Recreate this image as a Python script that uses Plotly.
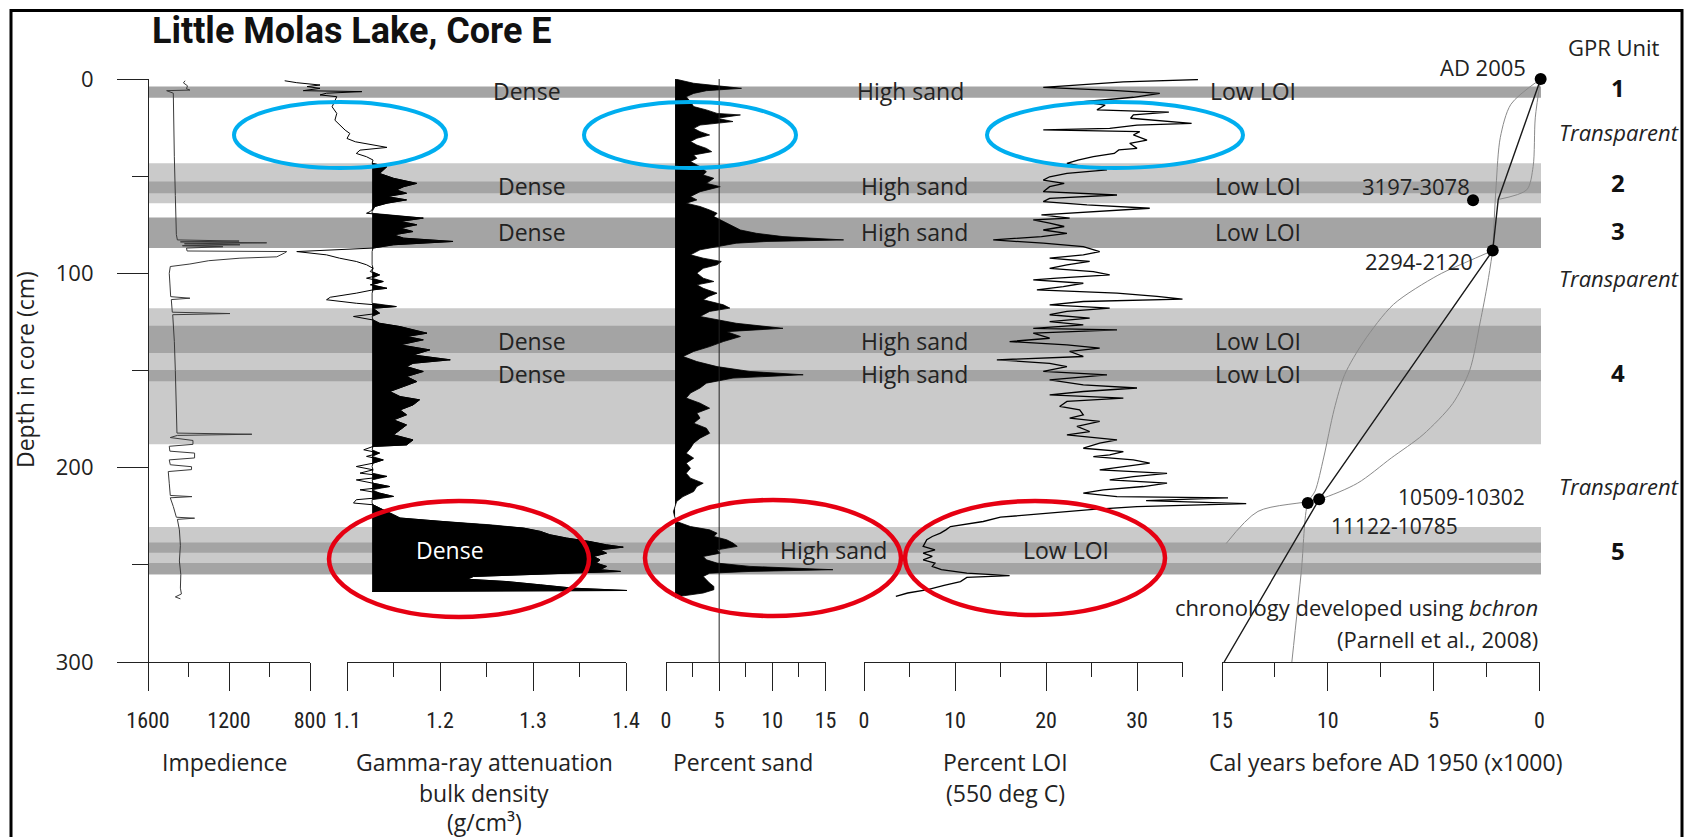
import plotly.graph_objects as go

W, H = 1692, 837   # browser window
OFF = 8            # page body margin: the figure starts 8 px right/down
WF, HF = W - OFF, H - OFF

# ---------------- data (depth in cm) ----------------
imp_depth = [0.9, 2.0, 3.5, 5.0, 5.7, 6.0, 7.3, 20, 40, 60,
             80, 82.8, 83.4, 83.8, 84.3, 84.8, 85.3, 85.8, 86.3, 87.0,
             88.5, 88.8, 89.5, 91.5, 92.2, 93.5, 95.2, 96.5, 100, 105,
             110, 112, 112.8, 113.5, 120, 120.7, 121.3, 135, 150, 165,
             182.2, 182.8, 183.4, 184.5, 186, 188, 189, 191.5, 192.5, 195,
             196, 198.5, 199.5, 201, 202, 208, 214.3, 214.9, 215.5, 220,
             225.5, 226, 226.6, 232, 240, 248, 255, 262, 265, 266.5,
             267.5]
imp_value = [1417, 1425, 1405, 1410, 1393, 1508, 1475, 1474, 1470, 1465,
             1460, 1455, 1150, 1440, 1014, 1420, 1146, 1430, 1230, 1410,
             1407, 915, 925, 964, 1146, 1300, 1393, 1490, 1495, 1492,
             1488, 1488, 1393, 1485, 1480, 1195, 1478, 1470, 1465, 1462,
             1457, 1087, 1455, 1490, 1378, 1378, 1495, 1492, 1370, 1370,
             1495, 1490, 1385, 1385, 1500, 1495, 1490, 1383, 1490, 1475,
             1460, 1370, 1455, 1445, 1440, 1445, 1438, 1440, 1435, 1465,
             1440]

dens_depth = [0.9, 1.9, 3.1, 3.9, 4.8, 6.0, 6.5, 7.3, 8.2, 9.1,
              14.3, 17.7, 21.2, 23.7, 26.3, 28.0, 30.6, 32.3, 35.2, 36.6,
              38.3, 40.0, 41.7, 43.4, 45.1, 48.6, 51.1, 53.7, 55.4, 57.1,
              58.8, 60.5, 62.2, 63.9, 65.6, 68.2, 69.1, 71.6, 73.3, 75.0,
              76.7, 78.5, 80.2, 81.9, 83.6, 85.3, 87.0, 88.8, 90.5, 92.2,
              93.9, 95.6, 97.4, 99.1, 100.8, 102.5, 104.2, 105.9, 107.7, 108.5,
              110.2, 112.3, 113.6, 115.4, 117.1, 118.0, 120.5, 122.2, 124.0, 125.7,
              127.4, 130.8, 132.5, 134.2, 136.8, 139.4, 142.0, 144.5, 146.3, 148.0,
              150.5, 153.1, 155.7, 158.2, 160.8, 163.4, 165.1, 167.7, 170.3, 172.8,
              175.4, 178.0, 180.6, 183.1, 185.7, 188.3, 189.1, 190.8, 192.5, 194.2,
              196.0, 197.7, 199.4, 201.1, 202.8, 204.5, 206.3, 208.0, 209.7, 211.4,
              213.1, 214.8, 216.5, 218.2, 219.1, 220.8, 222.5, 224.2, 225.9, 227.6,
              229.4, 231.1, 232.8, 234.5, 236.2, 238.0, 239.7, 240.9, 242.3, 244.0,
              245.7, 247.4, 249.1, 250.8, 252.5, 253.4, 254.3, 256.0, 257.4, 258.6,
              260.3, 262.0, 263.2, 263.7]
dens_value = [1.033, 1.046, 1.071, 1.057, 1.071, 1.053, 1.116, 1.078, 1.071, 1.089,
              1.084, 1.089, 1.087, 1.092, 1.098, 1.103, 1.100, 1.109, 1.143, 1.114,
              1.110, 1.121, 1.128, 1.127, 1.143, 1.135, 1.150, 1.175, 1.161, 1.153,
              1.164, 1.143, 1.164, 1.143, 1.130, 1.125, 1.121, 1.182, 1.157, 1.175,
              1.157, 1.171, 1.150, 1.161, 1.214, 1.150, 1.128, 1.046, 1.078, 1.092,
              1.110, 1.121, 1.128, 1.125, 1.135, 1.121, 1.139, 1.125, 1.143, 1.128,
              1.110, 1.082, 1.078, 1.110, 1.153, 1.128, 1.135, 1.107, 1.128, 1.135,
              1.157, 1.186, 1.164, 1.182, 1.157, 1.189, 1.171, 1.211, 1.171, 1.164,
              1.182, 1.164, 1.175, 1.161, 1.146, 1.157, 1.178, 1.171, 1.157, 1.164,
              1.150, 1.164, 1.157, 1.150, 1.171, 1.164, 1.128, 1.118, 1.135, 1.121,
              1.139, 1.128, 1.110, 1.128, 1.114, 1.143, 1.110, 1.128, 1.146, 1.114,
              1.135, 1.150, 1.110, 1.107, 1.128, 1.135, 1.143, 1.150, 1.157, 1.200,
              1.254, 1.290, 1.308, 1.318, 1.336, 1.361, 1.379, 1.397, 1.372, 1.379,
              1.365, 1.372, 1.368, 1.379, 1.372, 1.394, 1.336, 1.236, 1.229, 1.272,
              1.308, 1.343, 1.401, 1.127]
dens_base = 1.127      # left edge of the black density fill
dens_fill_from = 43.0  # fill starts below this depth

sand_depth = [0.0, 0.5, 2.2, 4.8, 6.0, 7.4, 9.1, 11.7, 14.2, 15.9,
              17.7, 18.5, 20.2, 21.9, 23.7, 25.4, 27.1, 28.8, 30.5, 32.2,
              34.0, 35.7, 37.4, 39.1, 40.8, 42.5, 45.1, 47.7, 49.4, 51.1,
              53.7, 55.4, 58.0, 60.5, 62.2, 63.9, 65.6, 67.4, 69.1, 70.8,
              72.5, 74.2, 75.9, 77.7, 79.4, 81.1, 82.8, 83.6, 84.5, 86.2,
              87.9, 90.5, 92.2, 93.9, 95.6, 97.4, 99.9, 102.5, 104.2, 105.9,
              107.7, 110.2, 111.9, 113.6, 116.2, 117.9, 119.6, 122.2, 123.9, 125.7,
              128.3, 130.0, 132.5, 135.1, 137.7, 140.2, 142.8, 145.4, 148.0, 150.5,
              152.2, 153.9, 156.5, 159.0, 161.6, 164.2, 166.8, 169.4, 171.9, 174.5,
              177.1, 179.7, 182.3, 184.8, 187.4, 190.0, 192.6, 195.1, 197.7, 200.3,
              202.9, 205.4, 208.0, 209.7, 212.3, 214.9, 217.4, 220.0, 222.6, 225.0,
              227.7, 230.3, 232.0, 233.7, 235.4, 237.1, 238.8, 240.5, 242.3, 244.0,
              245.7, 247.4, 249.1, 250.8, 252.5, 253.4, 254.3, 256.0, 257.7, 259.4,
              261.1, 262.8, 264.5, 266.2, 267.0]
sand_value = [0.85, 1.3, 2.6, 7.1, 3.8, 2.6, 1.9, 2.3, 2.6, 3.8,
              4.8, 7.0, 4.8, 6.3, 3.2, 2.6, 3.2, 4.1, 2.9, 2.3,
              2.9, 3.8, 4.3, 2.6, 2.9, 2.3, 3.2, 3.8, 3.5, 4.5,
              3.8, 5.1, 3.2, 2.3, 2.9, 1.9, 3.2, 4.1, 4.8, 4.5,
              5.1, 5.7, 6.3, 7.0, 8.5, 11.0, 16.7, 9.5, 6.6, 4.8,
              3.2, 2.3, 3.5, 5.2, 4.8, 3.5, 2.9, 3.5, 4.5, 2.9,
              3.5, 4.8, 4.0, 3.5, 5.4, 6.0, 4.1, 3.2, 4.8, 6.6,
              11.0, 5.7, 7.0, 5.4, 4.1, 2.6, 1.6, 2.9, 4.8, 7.9,
              12.9, 6.3, 3.8, 3.2, 2.3, 1.9, 3.2, 4.1, 2.9, 3.2,
              2.6, 3.8, 4.1, 3.2, 2.6, 2.3, 1.9, 2.6, 1.9, 2.3,
              1.9, 2.3, 3.5, 2.9, 2.6, 1.6, 1.0, 0.85, 0.7, 0.8,
              1.0, 2.3, 4.1, 4.8, 4.5, 5.7, 6.3, 6.7, 4.8, 5.1,
              3.5, 3.8, 4.8, 7.9, 15.7, 7.9, 4.1, 3.5, 3.8, 4.1,
              4.5, 4.5, 3.5, 1.3, 0.85]
sand_base = 0.85
sand_ref_line = 5

loi_depth = [0.3, 1.5, 4.3, 6.0, 7.4, 9.4, 11.7, 13.4, 15.9, 17.0,
             18.5, 20.2, 22.8, 23.7, 25.4, 26.2, 27.1, 28.8, 31.4, 33.1,
             35.7, 36.5, 38.3, 40.0, 41.7, 43.4, 45.1, 46.8, 48.6, 50.3,
             52.0, 53.7, 55.4, 58.0, 59.7, 61.4, 63.1, 64.8, 66.5, 68.2,
             69.9, 71.6, 72.5, 74.2, 75.9, 77.7, 79.4, 81.1, 82.8, 84.5,
             86.2, 88.8, 90.5, 92.2, 93.9, 95.6, 97.4, 99.1, 100.8, 102.5,
             103.4, 105.1, 106.8, 108.5, 110.2, 111.9, 113.3, 114.5, 116.2, 117.9,
             119.6, 121.3, 123.0, 124.8, 126.5, 128.3, 129.1, 130.8, 133.4, 135.1,
             136.8, 138.5, 140.2, 142.8, 144.5, 146.3, 148.0, 150.5, 152.2, 154.8,
             157.4, 159.0, 160.8, 162.5, 164.2, 165.9, 168.5, 170.3, 172.8, 174.5,
             176.2, 178.8, 181.4, 183.1, 185.7, 187.4, 190.0, 191.7, 193.4, 194.3,
             196.0, 197.7, 199.4, 201.1, 202.9, 204.6, 206.3, 208.0, 209.7, 211.4,
             213.1, 214.9, 215.5, 217.0, 218.5, 220.0, 221.5, 223.0, 225.5, 227.7,
             230.3, 232.0, 233.7, 235.4, 237.1, 240.5, 242.3, 244.0, 245.7, 247.4,
             249.1, 250.8, 252.5, 254.3, 255.6, 256.5, 258.6, 260.6, 262.8, 264.5,
             266.2]
loi_value = [36.7, 28.5, 19.7, 27.8, 32.5, 29.6, 24.1, 26.5, 25.6, 33.5,
             29.6, 29.3, 36.0, 30.0, 27.0, 19.7, 30.3, 29.6, 31.1, 29.2,
             30.0, 28.0, 27.5, 25.2, 23.5, 22.3, 24.1, 26.7, 22.3, 20.4,
             19.7, 22.0, 20.4, 19.7, 27.8, 20.4, 19.7, 24.5, 31.4, 24.8,
             19.5, 22.6, 18.6, 20.4, 22.0, 19.7, 22.3, 19.5, 14.2, 19.7,
             24.1, 25.9, 24.1, 20.4, 24.8, 22.3, 20.4, 25.2, 27.0, 21.2,
             18.6, 24.1, 21.9, 19.0, 27.8, 32.2, 35.0, 24.1, 20.4, 27.0,
             22.3, 20.4, 24.8, 20.4, 24.1, 18.6, 27.8, 18.6, 20.4, 16.0,
             22.3, 25.9, 22.6, 24.1, 14.6, 20.4, 22.3, 19.7, 26.7, 20.4,
             24.1, 30.0, 24.1, 20.4, 28.5, 22.3, 21.5, 23.7, 24.1, 22.6,
             25.9, 23.4, 24.8, 22.3, 27.8, 25.9, 24.1, 28.5, 27.0, 25.2,
             29.6, 31.4, 28.5, 25.9, 33.3, 29.6, 27.0, 33.3, 30.7, 26.3,
             24.1, 27.8, 40.0, 31.0, 42.0, 30.0, 25.2, 21.0, 15.0, 13.1,
             9.5, 9.0, 8.4, 7.5, 6.9, 6.5, 7.8, 6.5, 7.5, 6.5,
             7.8, 7.5, 8.5, 11.3, 16.0, 11.3, 10.6, 8.8, 7.0, 4.8,
             3.5]

# radiocarbon dates (cal kyr BP) and age model
date_label = ["AD 2005", "3197-3078", "2294-2120", "10509-10302", "11122-10785"]
date_age = [-0.055, 3.14, 2.21, 10.41, 10.95]
date_depth = [0.0, 62.4, 88.3, 216.3, 218.2]
model_age = [-0.055, 1.95, 2.21, 10.41, 14.9]
model_depth = [0.0, 62.0, 88.3, 216.3, 300.0]
env1_age = [-0.055, 1.35, 1.85, 2.05, 2.21]
env1_depth = [0.0, 13.0, 30.0, 55.0, 88.3]
env2_age = [-0.055, 0.2, 0.3, 0.6, 1.95]
env2_depth = [0.0, 20.0, 45.0, 57.0, 62.0]
env3_age = [2.21, 3.2, 4.8, 6.9, 8.3, 9.2, 9.7, 10.2, 10.6, 10.95, 11.25, 11.7]
env3_depth = [88.3, 93.0, 101.0, 116.0, 135.0, 152.0, 170.0, 195.0, 212.0, 218.2, 253.0, 300.0]
env4_age = [2.21, 2.45, 2.8, 3.3, 4.1, 5.5, 7.0, 8.6, 10.41, 13.3, 14.8]
env4_depth = [88.3, 105.0, 125.0, 150.0, 167.0, 183.0, 195.0, 208.0, 216.3, 222.5, 239.0]

# shaded depth intervals
band_light = [(43.4, 64.0), (118.0, 188.0), (230.5, 255.0)]
band_dark = [(3.9, 9.6), (52.8, 58.8), (71.3, 87.0), (127.0, 141.0),
             (149.7, 155.5), (238.5, 243.8), (249.0, 254.8)]
band_label_depth = [6.4, 55.2, 78.8, 134.9, 151.8]
band5_label_depth = 242.3

gpr_unit = ["1", "2", "3", "4", "5"]
gpr_depth = [4.6, 53.5, 77.7, 151.2, 242.8]
transparent_depth = [27.3, 102.4, 209.4]

# tick values / labels
depth_ticks = [0, 100, 200, 300]
depth_minor = [50, 150, 250]
imp_ticks, imp_minor = [1600, 1200, 800], [1400, 1000]
dens_ticks, dens_minor = [1.1, 1.2, 1.3, 1.4], [1.15, 1.25, 1.35]
sand_ticks, sand_minor = [0, 5, 10, 15], [2.5, 7.5, 12.5]
loi_ticks, loi_minor = [0, 10, 20, 30], [5, 15, 25, 35]
age_ticks, age_minor = [15, 10, 5, 0], [12.5, 7.5, 2.5]

# ---------------- layout geometry (page pixels) ----------------
Y_TOP, Y_BOT = 79, 662          # depth 0 and depth 300
X_YAX = 148
BAND_X0, BAND_X1 = 148, 1541
panels = [  # (px at first range value, px at second), (range)
    ((148, 310), (1600, 800), imp_ticks, imp_minor),
    ((347, 626), (1.1, 1.4), dens_ticks, dens_minor),
    ((666, 825.5), (0, 15), sand_ticks, sand_minor),
    ((864, 1182.5), (0, 35), loi_ticks, loi_minor),
    ((1222, 1539.5), (15, 0), age_ticks, age_minor),
]

FONT = "Open Sans"
NARROW = "Liberation Sans Narrow, Arial Narrow, Roboto Condensed, Roboto, sans-serif"
INK = "#222222"


def px2x(px):
    return (px - OFF) / WF


def px2y(py):
    return 1 - (py - OFF) / HF


def full_range(p, r):
    (p0, p1), (v0, v1) = p, r
    s = (v1 - v0) / (p1 - p0)
    return [v0 + (OFF - p0) * s, v0 + (OFF + WF - p0) * s]


fig = go.Figure()

# impedance
fig.add_trace(go.Scatter(x=imp_value, y=imp_depth, xaxis="x", yaxis="y", mode="lines",
                         line=dict(color="#3a3a3a", width=1)))

# density: black fill (where above base) + outline
fd = [d for d in dens_depth if d >= dens_fill_from]
fv = [max(v, dens_base) for d, v in zip(dens_depth, dens_value) if d >= dens_fill_from]
fig.add_trace(go.Scatter(x=[dens_base] + fv + [dens_base], y=[fd[0]] + fd + [fd[-1]],
                         xaxis="x2", yaxis="y", mode="lines", fill="toself",
                         fillcolor="black", line=dict(color="black", width=0.8)))
fig.add_trace(go.Scatter(x=dens_value, y=dens_depth, xaxis="x2", yaxis="y", mode="lines",
                         line=dict(color="black", width=1)))

# sand: black fill
fig.add_trace(go.Scatter(x=[sand_base] + sand_value + [sand_base],
                         y=[sand_depth[0]] + sand_depth + [sand_depth[-1]],
                         xaxis="x3", yaxis="y", mode="lines", fill="toself",
                         fillcolor="black", line=dict(color="black", width=0.8)))

# LOI
fig.add_trace(go.Scatter(x=loi_value, y=loi_depth, xaxis="x4", yaxis="y", mode="lines",
                         line=dict(color="black", width=1.3)))

# age model
for a, d in [(env1_age, env1_depth), (env2_age, env2_depth),
             (env3_age, env3_depth), (env4_age, env4_depth)]:
    fig.add_trace(go.Scatter(x=a, y=d, xaxis="x5", yaxis="y", mode="lines",
                             line=dict(color="#8a8a8a", width=1, shape="spline", smoothing=0.8)))
fig.add_trace(go.Scatter(x=model_age, y=model_depth, xaxis="x5", yaxis="y", mode="lines",
                         line=dict(color="#1a1a1a", width=1.4)))
fig.add_trace(go.Scatter(x=date_age, y=date_depth, xaxis="x5", yaxis="y", mode="markers",
                         marker=dict(color="black", size=12), cliponaxis=False))

# dummy traces so the visible tick axes are drawn
for i in range(6, 11):
    fig.add_trace(go.Scatter(x=[None], y=[None], xaxis=f"x{i}", yaxis="y", mode="lines"))

layout = dict(
    template="none",
    width=WF, height=HF, autosize=False,
    margin=dict(l=0, r=0, t=0, b=0, pad=0, autoexpand=False),
    paper_bgcolor="white", plot_bgcolor="rgba(0,0,0,0)",
    showlegend=False, hovermode=False,
    yaxis=dict(domain=[px2y(Y_BOT), px2y(Y_TOP)], range=[300, 0], anchor="free",
               position=px2x(X_YAX), showline=True, linecolor=INK, linewidth=1.2,
               ticks="outside", ticklen=31, tickwidth=1.2, tickcolor=INK,
               tickmode="array", tickvals=depth_ticks, automargin=False,
               minor=dict(tickmode="array", tickvals=depth_minor, ticks="outside",
                          ticklen=16, tickwidth=1.2, tickcolor=INK, showgrid=False),
               showgrid=False, zeroline=False, ticklabelstandoff=19,
               tickfont=dict(family=FONT, size=22, color=INK)),
)

names = ["xaxis", "xaxis2", "xaxis3", "xaxis4", "xaxis5"]
for k, (p, r, tv, mv) in enumerate(panels):
    ax = dict(domain=[0, 1], range=full_range(p, r), visible=False, anchor="y",
              showgrid=False, zeroline=False, automargin=False)
    if k > 0:
        ax["overlaying"] = "x"
    layout[names[k]] = ax
    layout[f"xaxis{k + 6}"] = dict(
        domain=[px2x(p[0]), px2x(p[1])], range=list(r), anchor="y", side="bottom",
        showline=True, linecolor=INK, linewidth=1.2, ticks="outside", ticklen=28,
        tickwidth=1.2, tickcolor=INK, tickmode="array", tickvals=tv,
        ticktext=[str(t) for t in tv], automargin=False,
        minor=dict(tickmode="array", tickvals=mv, ticks="outside", ticklen=14,
                   tickwidth=1.2, tickcolor=INK, showgrid=False),
        showgrid=False, zeroline=False, ticklabelstandoff=10,
        tickfont=dict(family=NARROW, size=22, color=INK))

fig.update_layout(**layout)

# ---------------- shapes ----------------
shapes = []
for y0, y1 in band_light:
    shapes.append(dict(type="rect", xref="paper", yref="y", x0=px2x(BAND_X0), x1=px2x(BAND_X1),
                       y0=y0, y1=y1, fillcolor="#cacaca", line=dict(width=0), layer="below"))
for y0, y1 in band_dark:
    shapes.append(dict(type="rect", xref="paper", yref="y", x0=px2x(BAND_X0), x1=px2x(BAND_X1),
                       y0=y0, y1=y1, fillcolor="#a4a4a4", line=dict(width=0), layer="below"))
shapes.append(dict(type="line", xref="x3", yref="y", x0=sand_ref_line, x1=sand_ref_line,
                   y0=-1, y1=300, line=dict(color=INK, width=1)))


def ellipse(cx, cy, rx, ry, color, w):
    return dict(type="circle", xref="paper", yref="paper",
                x0=px2x(cx - rx), x1=px2x(cx + rx), y0=px2y(cy + ry), y1=px2y(cy - ry),
                line=dict(color=color, width=w), fillcolor="rgba(0,0,0,0)")


BLUE, RED = "#00aeef", "#e60012"
shapes += [ellipse(340, 135, 106, 33, BLUE, 4), ellipse(690, 135, 106, 33, BLUE, 4),
           ellipse(1115, 135, 128, 33, BLUE, 4),
           ellipse(459, 559, 130, 58, RED, 4.5), ellipse(773, 558, 128, 58, RED, 4.5),
           ellipse(1035, 558, 130, 57, RED, 4.5)]
# outer frame
shapes.append(dict(type="rect", xref="paper", yref="paper", x0=px2x(11), x1=px2x(1682),
                   y0=px2y(10.5), y1=-0.1, line=dict(color="black", width=3),
                   fillcolor="rgba(0,0,0,0)"))
fig.update_layout(shapes=shapes)

# ---------------- text ----------------
anns = []


def txt(text, x, y, size=22, color=INK, xanchor="center", yanchor="middle",
        family=FONT, yref="paper", angle=0):
    anns.append(dict(text=text, x=px2x(x), xref="paper",
                     y=(y if yref == "y" else px2y(y)), yref=yref,
                     xanchor=xanchor, yanchor=yanchor, showarrow=False, textangle=angle,
                     font=dict(family=family, size=size, color=color)))


txt("<b>Little Molas Lake, Core E</b>", 150, 31, size=36, xanchor="left", family="Roboto",
    color="#111")
txt("Depth in core (cm)", 25, 370, size=23, angle=-90)

for i, d in enumerate(band_label_depth):
    txt("Dense", 527 if i == 0 else 532, d, size=23, yref="y")
    txt("High sand", 910 if i == 0 else 914, d, size=23, yref="y")
    txt("Low LOI", 1253 if i == 0 else 1258, d, size=23, yref="y")
txt("Dense", 450, band5_label_depth, size=23, yref="y", color="white")
txt("High sand", 833, band5_label_depth, size=23, yref="y")
txt("Low LOI", 1066, band5_label_depth, size=23, yref="y")

txt("GPR Unit", 1614, 47, size=22)
for u, d in zip(gpr_unit, gpr_depth):
    txt(f"<b>{u}</b>", 1618, d, size=24, yref="y", color="#111")
for d in transparent_depth:
    txt("<i>Transparent</i>", 1557, d, size=22, xanchor="left", yref="y")

# date labels
txt(date_label[0], 1528, 67, size=22, xanchor="right")
txt(date_label[1], 1472, 186, size=22, xanchor="right")
txt(date_label[2], 1475, 261, size=22, xanchor="right")
txt(date_label[3], 1527, 497, size=21, xanchor="right")
txt(date_label[4], 1460, 526, size=21, xanchor="right")
txt("chronology developed using <i>bchron</i>", 1540, 607, size=22, xanchor="right")
txt("(Parnell et al., 2008)", 1540, 639, size=22, xanchor="right")

# bottom axis titles
txt("Impedience", 225, 762, size=23)
txt("Gamma-ray attenuation", 484, 762, size=23)
txt("bulk density", 484, 793, size=23)
txt("(g/cm³)", 484, 822, size=23)
txt("Percent sand", 743, 762, size=23)
txt("Percent LOI", 1005, 762, size=23)
txt("(550 deg C)", 1005, 793, size=23)
txt("Cal years before AD 1950 (x1000)", 1385, 762, size=23)

fig.update_layout(annotations=anns)

fig.write_html("out.html")
